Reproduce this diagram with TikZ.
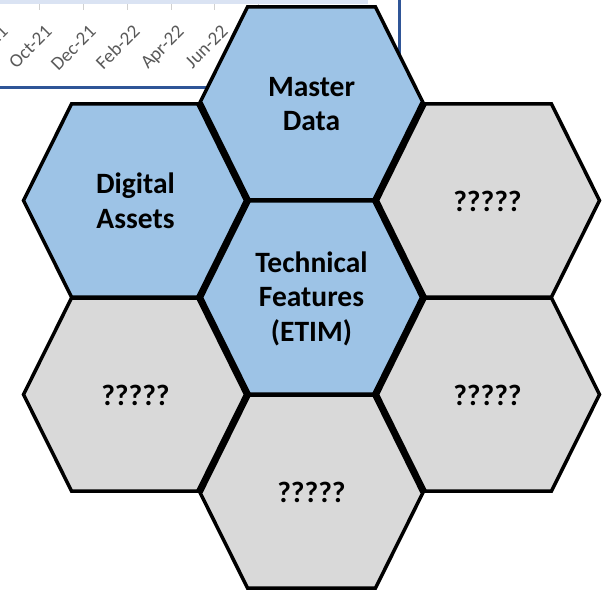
\documentclass[tikz,border=0pt]{standalone}
\usepackage{fontspec}
\setmainfont{Carlito}
\definecolor{hblue}{HTML}{9DC3E6}
\definecolor{hgray}{HTML}{D9D9D9}
\definecolor{axlbl}{HTML}{595959}
\definecolor{framec}{HTML}{2F5597}
\definecolor{bandc}{HTML}{DAE3F3}
\definecolor{tickc}{HTML}{D0D0D0}
\newcommand{\hexat}[3]{\path[#1, shift={(#2,#3)}] (-112,0) -- (-64,-96.5) -- (64,-96.5) -- (112,0) -- (64,96.5) -- (-64,96.5) -- cycle;}
\begin{document}
\begin{tikzpicture}[x=1pt,y=-1pt,
  bluehex/.style={fill=hblue, draw=black, line width=3.5pt, line join=miter},
  grayhex/.style={fill=hgray, draw=black, line width=3.5pt, line join=miter},
  hextext/.style={align=center, inner sep=0pt, font=\bfseries\fontsize{29.5}{34.5}\selectfont},
  datelbl/.style={anchor=base east, rotate=45, inner sep=0pt, text=axlbl, font=\fontsize{19}{22}\selectfont},
  frameline/.style={draw=framec, line width=3pt},
  gridtick/.style={draw=tickc, line width=1pt},
  sharededge/.style={draw=black, line width=7pt, line join=miter}]
\useasboundingbox (0,0) rectangle (603,591);
\clip (0,0) rectangle (603,591);
% chart fragment behind
\fill[bandc] (0,0) rectangle (368,4.5);
\foreach \x in {39,83,127,171,214,258} \draw[gridtick] (\x,4.5) -- (\x,10);
\node[datelbl] (l0) at (9,33) {Aug-21};
\node[datelbl] (l1) at (53,33) {Oct-21};
\node[datelbl] (l2) at (97,33) {Dec-21};
\node[datelbl] (l3) at (141,33) {Feb-22};
\node[datelbl] (l4) at (185,33) {Apr-22};
\node[datelbl] (l5) at (229,33) {Jun-22};
\coordinate (fa) at (0,88);
\coordinate (fb) at (399,88);
\coordinate (fc) at (399,0);
\draw[frameline] (fa) -- (fb) -- (fc);
% hexagons
\hexat{bluehex}{311.5}{103.5}
\hexat{bluehex}{135.5}{200.5}
\hexat{grayhex}{487.5}{200.5}
\hexat{bluehex}{311.5}{297.5}
\hexat{grayhex}{135.5}{394.5}
\hexat{grayhex}{487.5}{394.5}
\hexat{grayhex}{311.5}{491.5}
% thicker shared slanted edges
\draw[sharededge] (199.5,103.5) -- (247.5,200.5) -- (199.5,297.5) -- (247.5,394.5) -- (199.5,491.5);
\draw[sharededge] (423.5,103.5) -- (375.5,200.5) -- (423.5,297.5) -- (375.5,394.5) -- (423.5,491.5);
% texts
\node[hextext] (md) at (311.5,104) {Master\\Data};
\node[hextext] (da) at (135.5,201) {Digital\\Assets};
\node[hextext] (tf) at (311.5,298.5) {Technical\\Features\\(ETIM)};
\node[hextext] (q1) at (487.5,201) {?????};
\node[hextext] (q2) at (135.5,395) {?????};
\node[hextext] (q3) at (487.5,395) {?????};
\node[hextext] (q4) at (311.5,492) {?????};
\end{tikzpicture}
\end{document}
